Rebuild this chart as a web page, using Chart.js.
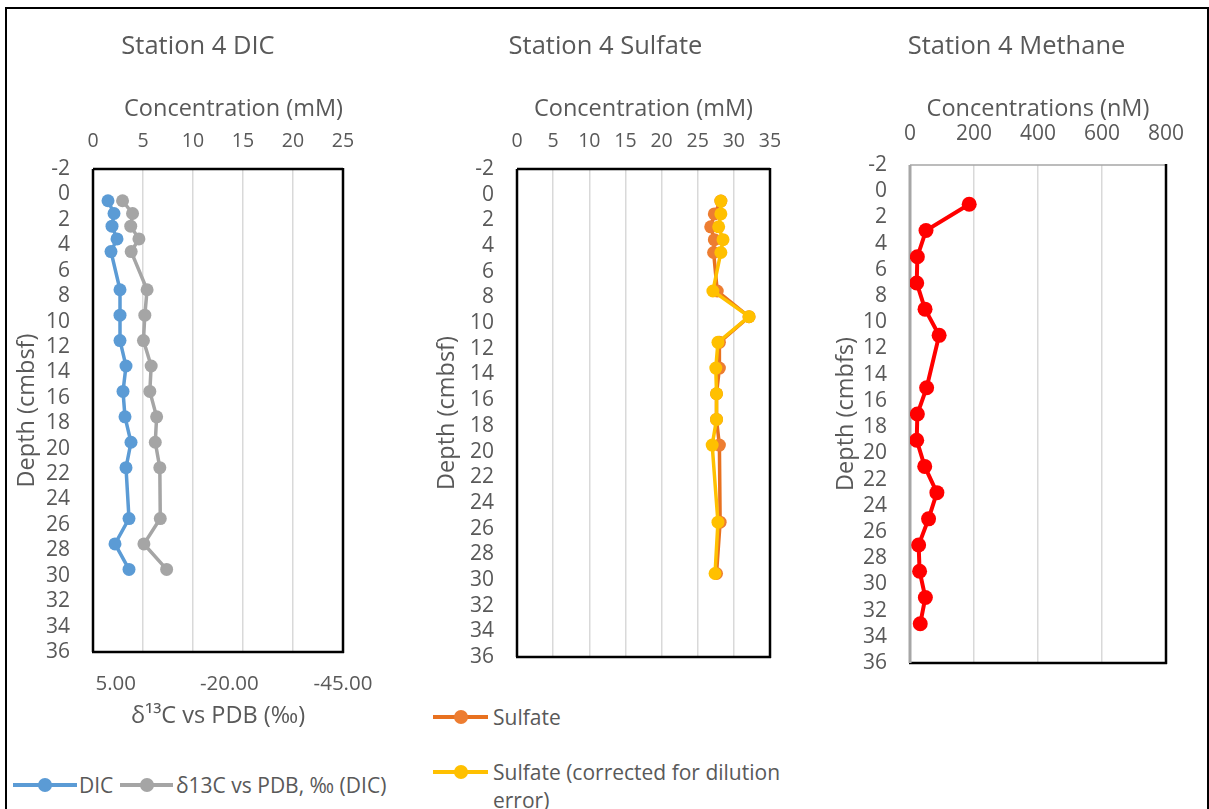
<!DOCTYPE html>
<html>
<head>
<meta charset="utf-8">
<script src="https://cdn.jsdelivr.net/npm/chart.js@4.4.1/dist/chart.umd.min.js"></script>
<style>
body { margin:0; background:#fff; width:1209px; height:809px; overflow:hidden; position:relative; font-family:"Open Sans", sans-serif; color:#595959; }
#frame { position:absolute; left:5px; top:7px; width:1200px; height:830px; border:2px solid #000; }
canvas { position:absolute; top:0; }
.leg { position:absolute; font-size:21px; line-height:28px; white-space:nowrap; }
.key { position:absolute; height:4px; margin-top:-2px; }
.key i { position:absolute; width:14px; height:14px; border-radius:50%; left:50%; top:50%; margin:-7px 0 0 -7px; }
</style>
</head>
<body>
<div id="frame"></div>
<canvas id="dic" width="396" height="740" style="left:0px"></canvas>
<canvas id="sulf" width="389" height="670" style="left:411px"></canvas>
<canvas id="ch4" width="381" height="680" style="left:826px"></canvas>

<div class="key" style="left:13px;top:785px;width:64px;background:#5B9BD5"><i style="background:#5B9BD5"></i></div>
<div class="leg" style="left:79px;top:771px">DIC</div>
<div class="key" style="left:120px;top:785px;width:53px;background:#A5A5A5"><i style="background:#A5A5A5"></i></div>
<div class="leg" style="left:176px;top:771px">δ13C vs PDB, ‰ (DIC)</div>

<div class="key" style="left:433px;top:717px;width:55px;background:#E8711F"><i style="background:#ED7D31"></i></div>
<div class="leg" style="left:493px;top:703px">Sulfate</div>
<div class="key" style="left:433px;top:772px;width:55px;background:#FFC000"><i style="background:#FFC000"></i></div>
<div class="leg" style="left:493px;top:758px">Sulfate (corrected for dilution<br>error)</div>

<script>
// depth (cmbsf) and values
var dicDepth = [0.5, 1.5, 2.5, 3.5, 4.5, 7.5, 9.5, 11.5, 13.5, 15.5, 17.5, 19.5, 21.5, 25.5, 27.5, 29.5]
var dicConc = [1.5, 2.1, 1.9, 2.4, 1.8, 2.7, 2.7, 2.7, 3.3, 3.0, 3.2, 3.8, 3.3, 3.6, 2.2, 3.6]
var d13c = [3.5, 1.3, 1.7, -0.1, 1.6, -1.9, -1.4, -1.1, -2.8, -2.5, -4.0, -3.7, -4.7, -4.8, -1.2, -6.2]
var d13cTicks = [-45, -20, 5]

var sulfDepth = [0.5, 1.5, 2.5, 3.5, 4.5, 7.5, 9.5, 11.5, 13.5, 15.5, 17.5, 19.5, 25.5, 29.5]
var sulfate = [28.2, 27.3, 26.8, 27.3, 27.2, 27.7, 32.1, 28.0, 28.0, 27.6, 27.6, 28.0, 28.1, 27.6]
var sulfateCorr = [28.2, 28.2, 27.9, 28.5, 28.2, 27.1, 32.1, 27.8, 27.5, 27.6, 27.6, 27.0, 27.8, 27.4]

var ch4Depth = [1, 3, 5, 7, 9, 11, 15, 17, 19, 21, 23, 25, 27, 29, 31, 33]
var methane = [185, 50, 23, 21, 47, 91, 52, 23, 21, 46, 84, 58, 27, 30, 48, 32]

var F = '"Open Sans", sans-serif'
var GREY = '#595959'

function pts(xs, ys) {
    return xs.map(function (v, i) { return { x: v, y: ys[i] } })
}

// border around the plot area, each side with its own colour
var plotBox = {
    id: 'plotBox',
    beforeDatasetsDraw: function (chart, args, o) {
        var a = chart.chartArea, ctx = chart.ctx
        function side(c, w, x1, y1, x2, y2) {
            ctx.save()
            ctx.strokeStyle = c
            ctx.lineWidth = w
            ctx.beginPath()
            ctx.moveTo(x1, y1)
            ctx.lineTo(x2, y2)
            ctx.stroke()
            ctx.restore()
        }
        side(o.top[0], o.top[1], a.left, a.top, a.right, a.top)
        side(o.bottom[0], o.bottom[1], a.left - 1, a.bottom, a.right + 1, a.bottom)
        side(o.left[0], o.left[1], a.left, a.top, a.left, a.bottom)
        side(o.right[0], o.right[1], a.right, a.top - 1, a.right, a.bottom + 1)
    }
}

function depthAxis(width, title, titlePad) {
    return {
        position: 'left', reverse: true, min: -2, max: 36,
        ticks: { stepSize: 2, padding: 23, autoSkip: false, color: GREY, font: { family: F, size: 21 } },
        grid: { display: false, drawTicks: false },
        border: { display: false },
        title: { display: true, text: title, color: GREY, font: { family: F, size: 23.5 }, padding: { top: titlePad, bottom: 0 } },
        afterFit: function (s) {
            s.width = width
            // the tick padding should not push the plot bottom up
            s.paddingTop = 0
            s.paddingBottom = 0
        }
    }
}

function concAxis(max, step, height, title, tickSize, tickPad, align) {
    return {
        position: 'top', min: 0, max: max,
        ticks: { stepSize: step, padding: tickPad, autoSkip: false, color: GREY, font: { family: F, size: tickSize } },
        grid: { color: '#d9d9d9', lineWidth: 1.5, drawTicks: false },
        border: { display: false },
        title: { display: true, text: title, align: align || 'center', color: GREY, font: { family: F, size: 23.5 }, padding: { top: 34, bottom: 0 } },
        afterFit: function (s) { s.height = height }
    }
}

// empty right-hand margin, so the chart title stays centred on the whole canvas
function spacer(width) {
    return {
        position: 'right', display: true,
        ticks: { display: false }, grid: { display: false, drawTicks: false }, border: { display: false },
        afterFit: function (s) { s.width = width; s.paddingTop = 0; s.paddingBottom = 0 }
    }
}

function series(label, data, line, fill, width, r, xAxis, order) {
    return {
        label: label, data: data, showLine: true,
        borderColor: line, backgroundColor: fill, borderWidth: width,
        pointRadius: r, pointBackgroundColor: fill, pointBorderColor: fill, pointBorderWidth: 0,
        xAxisID: xAxis, yAxisID: 'y', order: order
    }
}

function baseOptions(title, bottomPad, box) {
    return {
        responsive: false, animation: false, devicePixelRatio: 1,
        layout: { padding: { left: 0, right: 0, top: 0, bottom: bottomPad } },
        plugins: {
            legend: { display: false },
            tooltip: { enabled: false },
            title: { display: true, text: title, color: GREY, font: { family: F, size: 25.5, weight: 'normal' }, padding: { top: 31, bottom: 0 } },
            plotBox: box
        }
    }
}

var blackBox = { top: ['#000', 2.5], bottom: ['#000', 2.5], left: ['#000', 2.5], right: ['#000', 2.5] }

// Station 4 DIC
var opt1 = baseOptions('Station 4 DIC', 0, blackBox)
opt1.scales = {
    x: concAxis(25, 5, 107.4, 'Concentration (mM)', 19.5, 16.3, 'end'),
    x2: {
        position: 'bottom', reverse: true, min: -45, max: 10,
        afterBuildTicks: function (s) { s.ticks = d13cTicks.map(function (v) { return { value: v } }) },
        ticks: { padding: 19.7, color: GREY, font: { family: F, size: 20.5 }, callback: function (v) { return Number(v).toFixed(2) } },
        grid: { display: false, drawTicks: false },
        border: { display: false },
        title: { display: true, text: 'δ¹³C vs PDB (‰)', color: GREY, font: { family: F, size: 23.5 }, padding: { top: 0, bottom: 9.9 } },
        afterFit: function (s) { s.height = 88 }
    },
    y: depthAxis(93, 'Depth (cmbsf)', 13.4),
    pad: spacer(53)
}
new Chart(document.getElementById('dic'), {
    type: 'scatter',
    data: {
        datasets: [
            series('DIC', pts(dicConc, dicDepth), '#5B9BD5', '#5B9BD5', 3.5, 6.5, 'x', 2),
            series('δ13C vs PDB, ‰ (DIC)', pts(d13c, dicDepth), '#A5A5A5', '#A5A5A5', 3.5, 6.5, 'x2', 1)
        ]
    },
    options: opt1,
    plugins: [plotBox]
})

// Station 4 Sulfate
var opt2 = baseOptions('Station 4 Sulfate', 13, blackBox)
opt2.scales = {
    x: concAxis(35, 5, 107.4, 'Concentration (mM)', 19.5, 16.3),
    y: depthAxis(106, 'Depth (cmbsf)', 21.9),
    pad: spacer(30)
}
new Chart(document.getElementById('sulf'), {
    type: 'scatter',
    data: {
        datasets: [
            series('Sulfate', pts(sulfate, sulfDepth), '#E8711F', '#ED7D31', 3.5, 6.5, 'x', 2),
            series('Sulfate (corrected for dilution error)', pts(sulfateCorr, sulfDepth), '#FFC000', '#FFC000', 3.5, 6.5, 'x', 1)
        ]
    },
    options: opt2,
    plugins: [plotBox]
})

// Station 4 Methane
var opt3 = baseOptions('Station 4 Methane', 17,
    { top: ['#a6a6a6', 1.5], bottom: ['#000', 2.5], left: ['#a6a6a6', 3], right: ['#000', 2.5] })
opt3.scales = {
    x: concAxis(800, 200, 103.4, 'Concentrations (nM)', 21, 18.2),
    y: depthAxis(84, 'Depth (cmbfs)', 5.9),
    pad: spacer(41)
}
new Chart(document.getElementById('ch4'), {
    type: 'scatter',
    data: {
        datasets: [
            series('Methane', pts(methane, ch4Depth), '#FF0000', '#FF0000', 4, 7.5, 'x', 1)
        ]
    },
    options: opt3,
    plugins: [plotBox]
})
</script>
</body>
</html>
